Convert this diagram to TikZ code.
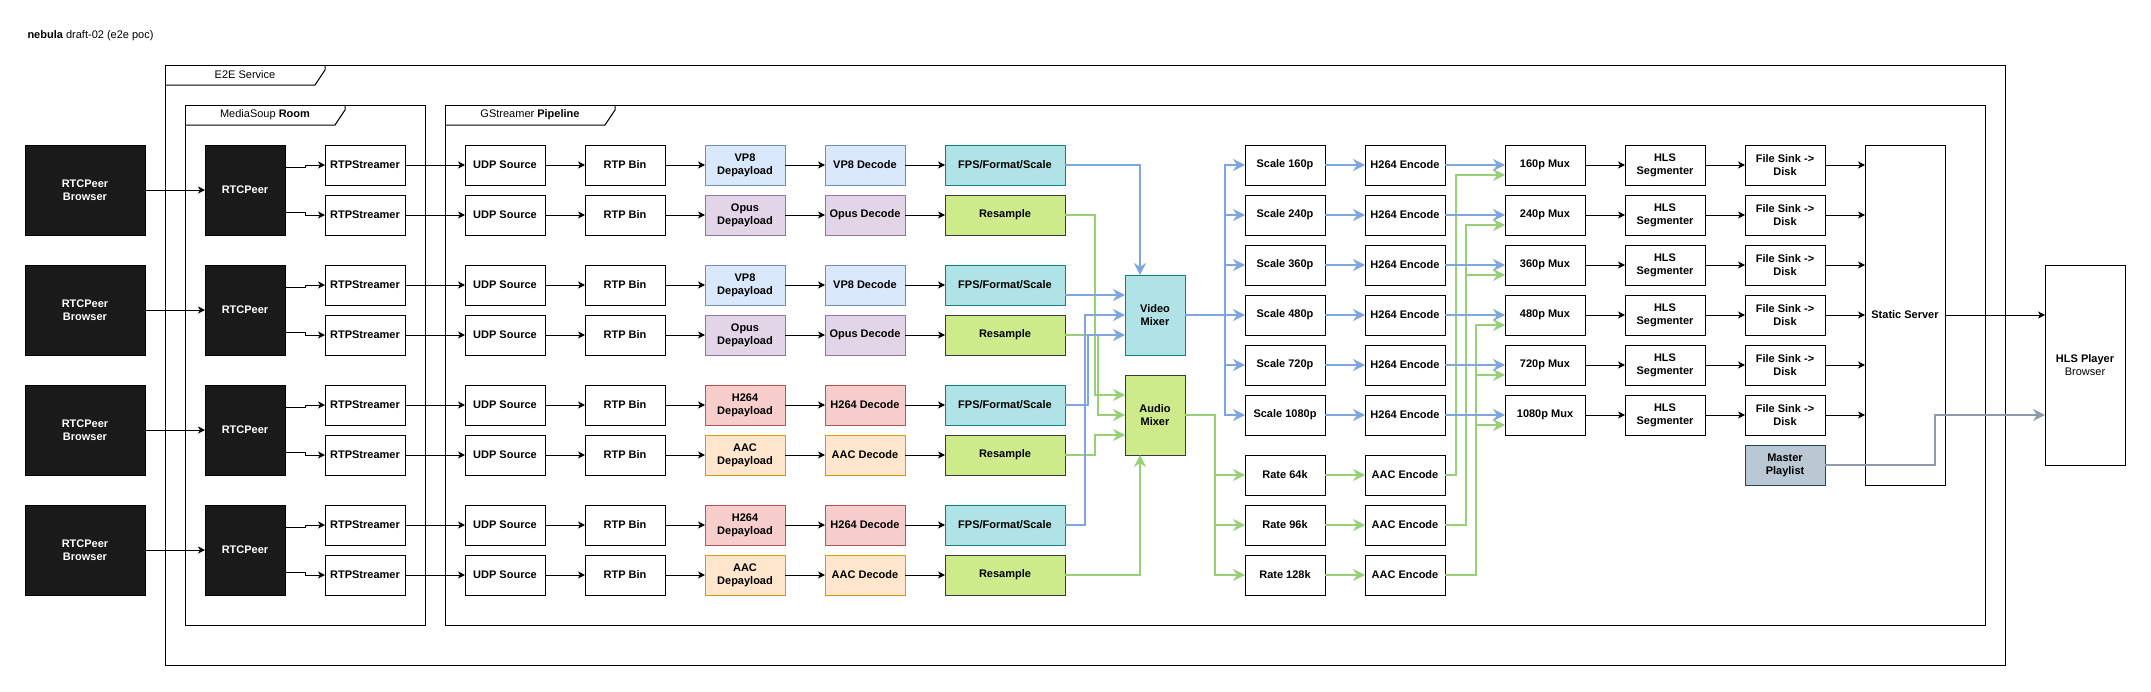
\documentclass[tikz,border=0pt]{standalone}
\usepackage{fontspec}
\setmainfont{Liberation Sans}
\usetikzlibrary{arrows.meta,calc}
\definecolor{boxblack}{HTML}{1A1A1A}
\definecolor{vpfill}{HTML}{DAE8FC}\definecolor{vpdraw}{HTML}{6C8EBF}
\definecolor{opfill}{HTML}{E1D5E7}\definecolor{opdraw}{HTML}{9673A6}
\definecolor{hfill}{HTML}{F8CECC}\definecolor{hdraw}{HTML}{B85450}
\definecolor{afill}{HTML}{FFE6CC}\definecolor{adraw}{HTML}{D79B00}
\definecolor{tfill}{HTML}{B0E3E6}\definecolor{tdraw}{HTML}{0E8088}
\definecolor{lfill}{HTML}{CDEB8B}\definecolor{ldraw}{HTML}{36393D}
\definecolor{mfill}{HTML}{BAC8D3}\definecolor{mdraw}{HTML}{23445D}
\definecolor{eblue}{HTML}{7EA6E0}
\definecolor{egreen}{HTML}{97D077}
\definecolor{egrey}{HTML}{8F9BA8}
\begin{document}
\begin{tikzpicture}[x=1pt,y=-1pt,
  every node/.style={font=\fontsize{11}{13.2}\selectfont\bfseries, inner sep=0pt, outer sep=0pt, align=center},
  box/.style={draw=black, line width=1pt, fill=white, minimum width=80pt, minimum height=40pt},
  vpbox/.style={box, fill=vpfill, draw=vpdraw},
  opbox/.style={box, fill=opfill, draw=opdraw},
  hbox/.style={box, fill=hfill, draw=hdraw},
  abox/.style={box, fill=afill, draw=adraw},
  tealbox/.style={box, fill=tfill, draw=tdraw, minimum width=120pt},
  limebox/.style={box, fill=lfill, draw=ldraw, minimum width=120pt},
  mbox/.style={box, fill=mfill, draw=mdraw},
  blackbox/.style={box, fill=boxblack, text=white, minimum height=90pt},
  lbl/.style={font=\fontsize{11}{13.2}\selectfont},
  frameline/.style={draw=black, line width=1pt},
  arrBlk/.style={draw=black, line width=1pt, -{Stealth[length=7pt,width=7pt,inset=2pt]}},
  arrBlue/.style={draw=eblue, line width=2pt, -{Stealth[length=12pt,width=12pt,inset=4pt]}},
  arrGreen/.style={draw=egreen, line width=2pt, -{Stealth[length=12pt,width=12pt,inset=4pt]}},
  arrGrey/.style={draw=egrey, line width=2pt, -{Stealth[length=12pt,width=12pt,inset=4pt]}}
]
\fill[white] (0,0) rectangle (2151,691);
\useasboundingbox (0,0) rectangle (2151,691);

% title and frames
\node[lbl, anchor=west] (title) at (27.5,36) {\textbf{nebula} draft-02 (e2e poc)};
\draw[frameline] (165,65) rectangle (2005,665);
\draw[frameline] (325,65) -- (325,70) -- (315,85) -- (165,85);
\node[lbl] (e2elbl) at (245,75) {E2E Service};
\draw[frameline] (185,105) rectangle (425,625);
\draw[frameline] (345,105) -- (345,110) -- (335,125) -- (185,125);
\node[lbl] (roomlbl) at (265,115) {MediaSoup \textbf{Room}};
\draw[frameline] (445,105) rectangle (1985,625);
\draw[frameline] (615,105) -- (615,110) -- (605,125) -- (445,125);
\node[lbl] (pipelbl) at (530,115) {GStreamer \textbf{Pipeline}};

% browsers and peers
\foreach \j/\y in {1/190,2/310,3/430,4/550} {
  \node[blackbox, minimum width=120pt] (br\j) at (85,\y) {RTCPeer\\Browser};
  \node[blackbox] (peer\j) at (245,\y) {RTCPeer};
}

% stream rows
\foreach \i/\y in {1/165,2/215,3/285,4/335,5/405,6/455,7/525,8/575} {
  \node[box] (st\i) at (365,\y) {RTPStreamer};
  \node[box] (udp\i) at (505,\y) {UDP Source};
  \node[box] (rtp\i) at (625,\y) {RTP Bin};
}
\node[vpbox] (dep1) at (745,165) {VP8\\Depayload};
\node[vpbox] (dec1) at (865,165) {VP8 Decode};
\node[tealbox] (proc1) at (1005,165) {FPS/Format/Scale};
\node[opbox] (dep2) at (745,215) {Opus\\Depayload};
\node[opbox] (dec2) at (865,215) {Opus Decode};
\node[limebox] (proc2) at (1005,215) {Resample};
\node[vpbox] (dep3) at (745,285) {VP8\\Depayload};
\node[vpbox] (dec3) at (865,285) {VP8 Decode};
\node[tealbox] (proc3) at (1005,285) {FPS/Format/Scale};
\node[opbox] (dep4) at (745,335) {Opus\\Depayload};
\node[opbox] (dec4) at (865,335) {Opus Decode};
\node[limebox] (proc4) at (1005,335) {Resample};
\node[hbox] (dep5) at (745,405) {H264\\Depayload};
\node[hbox] (dec5) at (865,405) {H264 Decode};
\node[tealbox] (proc5) at (1005,405) {FPS/Format/Scale};
\node[abox] (dep6) at (745,455) {AAC\\Depayload};
\node[abox] (dec6) at (865,455) {AAC Decode};
\node[limebox] (proc6) at (1005,455) {Resample};
\node[hbox] (dep7) at (745,525) {H264\\Depayload};
\node[hbox] (dec7) at (865,525) {H264 Decode};
\node[tealbox] (proc7) at (1005,525) {FPS/Format/Scale};
\node[abox] (dep8) at (745,575) {AAC\\Depayload};
\node[abox] (dec8) at (865,575) {AAC Decode};
\node[limebox] (proc8) at (1005,575) {Resample};

% mixers
\node[tealbox, minimum width=60pt, minimum height=80pt] (vmix) at (1155,315) {Video\\Mixer};
\node[limebox, minimum width=60pt, minimum height=80pt] (amix) at (1155,415) {Audio\\Mixer};

% output side
\node[box, minimum height=340pt] (static) at (1905,315) {Static Server};
\node[box, minimum height=200pt] (hlsp) at (2085,365) {HLS Player\\{\mdseries Browser}};
\node[mbox] (master) at (1785,465) {Master\\Playlist};
\foreach \i/\y/\res in {1/165/160,2/215/240,3/265/360,4/315/480,5/365/720,6/415/1080} {
  \node[box] (sc\i) at (1285,\y) {Scale \res p};
  \node[box] (enc\i) at (1405,\y) {H264 Encode};
  \node[box] (mux\i) at (1545,\y) {\res p Mux};
  \node[box] (seg\i) at (1665,\y) {HLS\\Segmenter};
  \node[box] (fs\i) at (1785,\y) {File Sink ->\\Disk};
}
\foreach \i/\y/\k in {1/475/64,2/525/96,3/575/128} {
  \node[box] (rate\i) at (1285,\y) {Rate \k k};
  \node[box] (aac\i) at (1405,\y) {AAC Encode};
}

% black connectors
\foreach \j in {1,...,4} {
  \pgfmathtruncatemacro{\a}{2*\j-1}
  \pgfmathtruncatemacro{\b}{2*\j}
  \draw[arrBlk] (br\j) -- (peer\j);
  \draw[arrBlk] ([yshift=22.5pt]peer\j.east) -- ++(20,0) |- (st\a);
  \draw[arrBlk] ([yshift=-22.5pt]peer\j.east) -- ++(20,0) |- (st\b);
}
\foreach \i in {1,...,8} {
  \draw[arrBlk] (st\i) -- (udp\i);
  \draw[arrBlk] (udp\i) -- (rtp\i);
  \draw[arrBlk] (rtp\i) -- (dep\i);
  \draw[arrBlk] (dep\i) -- (dec\i);
  \draw[arrBlk] (dec\i) -- (proc\i);
}

% green into audio mixer
\draw[arrGreen] (proc2.east) -- ++(30,0) |- ([yshift=20pt]amix.west);
\draw[arrGreen] (proc4.east) -- ++(33,0) |- (amix.west);
\draw[arrGreen] (proc6.east) -- ++(30,0) |- ([yshift=-20pt]amix.west);
\draw[arrGreen] (proc8.east) -| ([xshift=-15pt]amix.south);

% blue into video mixer
\draw[arrBlue] (proc1.east) -| ([xshift=-15pt]vmix.north);
\draw[arrBlue] ([yshift=-10pt]proc3.east) -- ([yshift=20pt]vmix.west);
\draw[arrBlue] (proc5.east) -- ++(23,0) |- ([yshift=-20pt]vmix.west);
\draw[arrBlue] (proc7.east) -- ++(20,0) |- (vmix.west);

% audio mixer outputs
\foreach \i in {1,2,3} {
  \draw[arrGreen] (amix.east) -- ++(30,0) |- (rate\i);
  \draw[arrGreen] (rate\i) -- (aac\i);
}
\draw[arrGreen] (aac1.east) -- ++(10.7,0) |- ([yshift=-10pt]mux1.west);
\foreach \m in {2,3} \draw[arrGreen] (aac2.east) -- ++(20.7,0) |- ([yshift=-10pt]mux\m.west);
\foreach \m in {4,5,6} \draw[arrGreen] (aac3.east) -- ++(30.7,0) |- ([yshift=-10pt]mux\m.west);

% video mixer outputs
\foreach \i in {1,...,6} {
  \draw[arrBlue] (vmix.east) -- ++(40,0) |- (sc\i);
  \draw[arrBlue] (sc\i) -- (enc\i);
  \draw[arrBlue] (enc\i) -- (mux\i);
  \draw[arrBlk] (mux\i) -- (seg\i);
  \draw[arrBlk] (seg\i) -- (fs\i);
  \draw[arrBlk] (fs\i.east) -- (fs\i.east -| static.west);
}

\draw[arrBlk] (static.east) -- ([yshift=50pt]hlsp.west);
\draw[arrGrey] (master.east) -- ++(110,0) |- ([yshift=-50pt]hlsp.west);
\end{tikzpicture}
\end{document}
